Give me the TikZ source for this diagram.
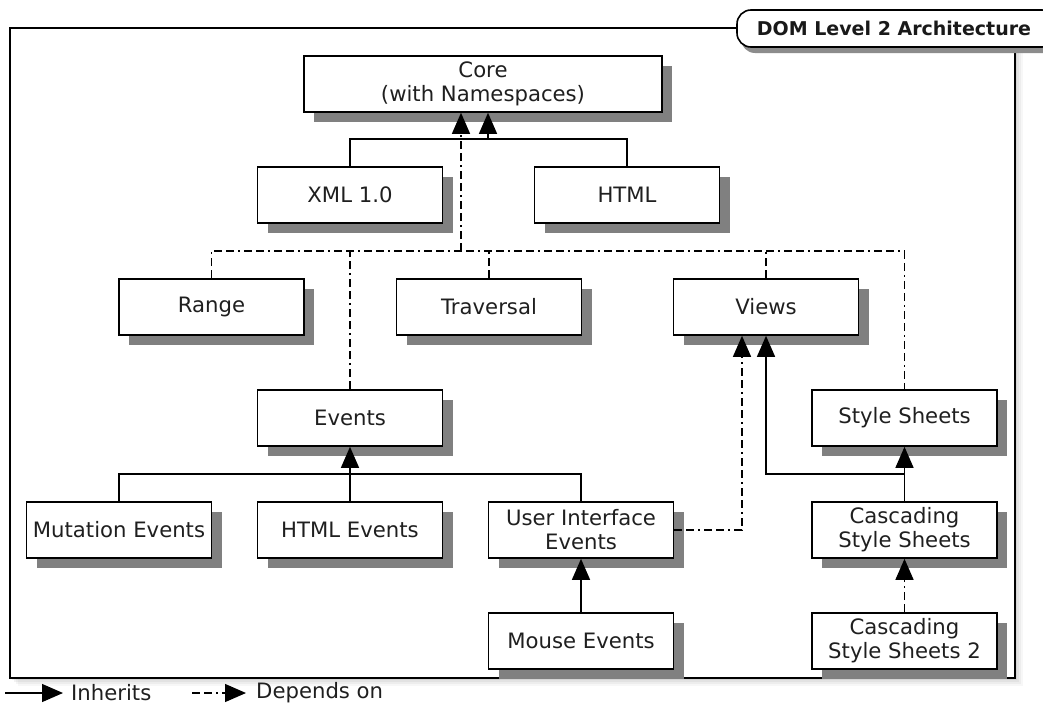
\documentclass[tikz,border=0pt]{standalone}
\usepackage{fontspec}
\setmainfont{DejaVu Sans}
\usetikzlibrary{arrows.meta,shadows,calc}

\begin{document}
\begin{tikzpicture}[x=1pt,y=-1pt,
  stepbox/.style={draw=black, line width=1.6pt, fill=white,
    minimum width=185pt, minimum height=56pt, inner sep=0pt,
    align=center, font=\fontsize{21.2}{24}\selectfont, text=black!88,
    drop shadow={shadow xshift=10pt, shadow yshift=-10pt, fill=black!50, opacity=1}},
  link/.style={line width=1.3pt, black},
  deplink/.style={link, dash pattern=on 8pt off 4pt on 8pt off 4pt on 2pt off 4pt},
  inh/.style={link, -{Triangle[length=21pt,width=18pt]}},
  dep/.style={deplink, -{Triangle[length=21pt,width=18pt]}},
  legendtext/.style={anchor=west, font=\fontsize{21.2}{24}\selectfont, text=black!88, inner sep=0pt}
]
\useasboundingbox (0,0) rectangle (1043,707);

% soft shadow of the frame
\foreach \d/\o in {2/0.06,4/0.05,6/0.04,8/0.03}
  \fill[black, opacity=\o] (10+\d,28+\d) rectangle (1015+\d,678+\d);
\draw[line width=1.6pt, fill=white] (10,28) rectangle (1015,678);

% title tab
\fill[black!45, rounded corners=14pt] (741,15) rectangle (1060,53);
\draw[line width=1.6pt, fill=white, rounded corners=14pt] (737,10) rectangle (1056,47);
\node[font=\bfseries\fontsize{19}{19}\selectfont, text=black!90] (title) at (894,28.5) {DOM Level 2 Architecture};

% modules
\node[stepbox, minimum width=358pt] (core) at (483,84) {Core\\(with Namespaces)};
\node[stepbox] (xml)    at (350,195)   {XML 1.0};
\node[stepbox] (html)   at (627,195)   {HTML};
\node[stepbox] (range)  at (211.5,307) {Range};
\node[stepbox] (trav)   at (489,307)   {Traversal};
\node[stepbox] (views)  at (766,307)   {Views};
\node[stepbox] (events) at (350,418)   {Events};
\node[stepbox] (style)  at (904.5,418) {Style Sheets};
\node[stepbox] (mut)    at (119,530)   {Mutation Events};
\node[stepbox] (htmlev) at (350,530)   {HTML Events};
\node[stepbox] (ui)     at (581,530)   {User Interface\\Events};
\node[stepbox] (css)    at (904.5,530) {Cascading\\Style Sheets};
\node[stepbox] (mouse)  at (581,641)   {Mouse Events};
\node[stepbox] (css2)   at (904.5,641) {Cascading\\Style Sheets 2};

% XML and HTML inherit from Core
\coordinate (jcore) at (488,139);
\draw[link] (xml.north) |- (jcore) -| (html.north);
\draw[inh] (jcore) -- (jcore |- core.south);

% modules depending on Core
\coordinate (jdep) at (461,251);
\draw[deplink] (range.north) |- (jdep) -| (style.north);
\draw[deplink] (trav.north) -- (trav.north |- jdep);
\draw[deplink] (views.north) -- (views.north |- jdep);
\draw[deplink] (events.north) -- (events.north |- jdep);
\draw[dep] (jdep) -- (jdep |- core.south);

% event modules
\coordinate (jev) at (350,474);
\draw[link] (mut.north) |- (jev) -| (ui.north);
\draw[link] (htmlev.north) -- (jev);
\draw[inh] (jev) -- (events.south);
\draw[inh] (mouse.north) -- (ui.south);
\coordinate (uiv) at (742,0);
\draw[dep] (ui.east) -| (uiv |- views.south);

% style sheet modules
\coordinate (jcss) at (904.5,474);
\draw[link] (css.north) -- (jcss);
\draw[inh] (jcss) -- (style.south);
\draw[inh] (jcss) -| (views.south);
\draw[dep] (css2.north) -- (css.south);

% legend
\coordinate (la1) at (5,693);
\coordinate (la2) at (63,693);
\draw[inh] (la1) -- (la2);
\node[legendtext] (linh) at (71,693) {Inherits};
\coordinate (lb1) at (192,693);
\coordinate (lb2) at (246,693);
\draw[dep] (lb1) -- (lb2);
\node[legendtext] (ldep) at (256,693) {Depends on};
\end{tikzpicture}
\end{document}
